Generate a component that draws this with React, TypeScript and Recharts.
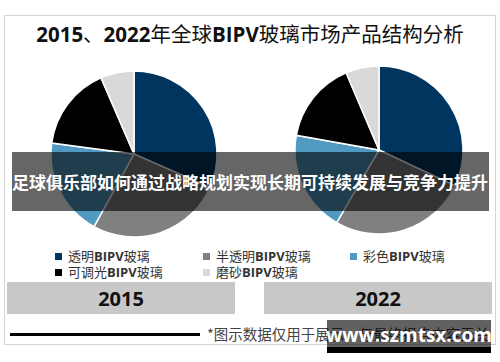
import { PieChart, Pie, Cell } from 'recharts';

const categories = ['透明BIPV玻璃', '半透明BIPV玻璃', '彩色BIPV玻璃', '可调光BIPV玻璃', '磨砂BIPV玻璃'];
const share2015 = [31.6, 26.4, 19.1, 16.4, 6.5];
const share2022 = [32.0, 26.4, 19.4, 15.8, 6.4];
const years = ['2015', '2022'];
const colors = ['#00355f', '#808080', '#509ac2', '#000000', '#d9d9d9'];

const title = '2015、2022年全球BIPV玻璃市场产品结构分析';
const banner = '足球俱乐部如何通过战略规划实现长期可持续发展与竞争力提升';
const note = '*图示数据仅用于展示，与最终报告内容无关';
const watermark = 'www.szmtsx.com';

const data2015 = categories.map((name, i) => ({ name, value: share2015[i] }));
const data2022 = categories.map((name, i) => ({ name, value: share2022[i] }));

const latin = "'Open Sans', 'Noto Sans CJK SC', sans-serif";
const cjk = "'Noto Sans CJK SC', sans-serif";

// latin runs bold, han runs plain, like the source image
function Mixed({ text, size, color }: { text: string; size: number; color: string }) {
  const parts = text.split(/([A-Za-z0-9]+)/).filter((p) => p.length > 0);
  return (
    <>
      {parts.map((p, i) =>
        /^[A-Za-z0-9]+$/.test(p) ? (
          <span key={i} style={{ fontFamily: latin, fontWeight: 700, fontSize: size, color }}>{p}</span>
        ) : (
          <span key={i} style={{ fontFamily: cjk, fontWeight: 400, fontSize: size, color }}>{p}</span>
        )
      )}
    </>
  );
}

const legendCols = [55, 203, 350];
const legendRows = [256, 272];

export default function App() {
  return (
    <div style={{ position: 'absolute', left: 0, top: 0, width: 500, height: 362, background: '#fff', overflow: 'hidden' }}>
      <div style={{ position: 'absolute', left: 4, top: 15, width: 490, height: 328, border: '1.5px solid #d4d4d4' }} />

      <div style={{ position: 'absolute', left: 0, top: 20, width: 500, textAlign: 'center', lineHeight: '26px', whiteSpace: 'nowrap' }}>
        <Mixed text={title} size={20.5} color="#111" />
      </div>

      <div style={{ position: 'absolute', left: 0, top: 0 }}>
        <PieChart width={500} height={362} margin={{ top: 0, right: 0, bottom: 0, left: 0 }}>
          <Pie data={data2015} dataKey="value" nameKey="name" cx={134} cy={154} outerRadius={83}
            startAngle={90} endAngle={-270} stroke="#fff" strokeWidth={1.5} isAnimationActive={false}>
            {data2015.map((d, i) => <Cell key={d.name} fill={colors[i]} />)}
          </Pie>
          <Pie data={data2022} dataKey="value" nameKey="name" cx={379} cy={150} outerRadius={84}
            startAngle={90} endAngle={-270} stroke="#fff" strokeWidth={1.5} isAnimationActive={false}>
            {data2022.map((d, i) => <Cell key={d.name} fill={colors[i]} />)}
          </Pie>
        </PieChart>
      </div>

      {categories.map((c, i) => {
        const row = i < 3 ? 0 : 1;
        const col = i < 3 ? i : i - 3;
        return (
          <div key={c} style={{ position: 'absolute', left: legendCols[col], top: legendRows[row] - 8, height: 16, lineHeight: '16px', display: 'flex', alignItems: 'center', whiteSpace: 'nowrap' }}>
            <div style={{ width: 7, height: 7, background: colors[i], marginRight: 6 }} />
            <Mixed text={c} size={13} color="#333" />
          </div>
        );
      })}

      {years.map((y, i) => (
        <div key={y} style={{ position: 'absolute', left: i === 0 ? 7 : 264, top: 282, width: 228, height: 32, background: '#c8c8c8', display: 'flex', alignItems: 'center', justifyContent: 'center', fontFamily: latin, fontWeight: 700, fontSize: 20, color: '#111' }}>
          {y}
        </div>
      ))}

      <div style={{ position: 'absolute', left: 10, top: 333, width: 190, height: 2.5, background: '#000' }} />
      <div style={{ position: 'absolute', left: 207, top: 324, whiteSpace: 'nowrap', fontFamily: cjk, fontSize: 14.5, color: '#444', lineHeight: '20px' }}>
        {note}
      </div>

      <div style={{ position: 'absolute', left: 12, top: 152, width: 477, height: 59, background: 'rgba(0,0,0,0.6)' }} />
      <div style={{ position: 'absolute', left: 0, top: 152, width: 500, height: 59, display: 'flex', alignItems: 'center', justifyContent: 'center', whiteSpace: 'nowrap', fontFamily: cjk, fontWeight: 700, fontSize: 17, color: '#fff' }}>
        {banner}
      </div>

      <div style={{ position: 'absolute', left: 327, top: 320, width: 164, height: 27, background: 'rgba(0,0,0,0.62)' }} />
      <div style={{ position: 'absolute', left: 327, top: 347, width: 164, height: 6, background: '#000' }} />
      <div style={{ position: 'absolute', left: 327, top: 320, width: 164, height: 30, display: 'flex', alignItems: 'center', justifyContent: 'center', fontFamily: latin, fontWeight: 700, fontSize: 19, color: '#fff' }}>
        {watermark}
      </div>
    </div>
  );
}
